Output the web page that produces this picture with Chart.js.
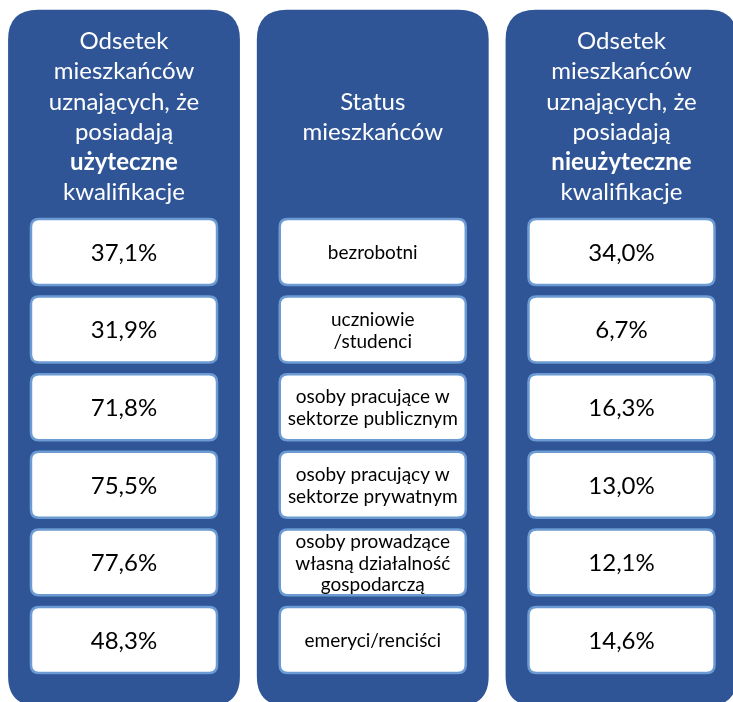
<!DOCTYPE html>
<html>
<head>
<meta charset="utf-8">
<script src="https://cdn.jsdelivr.net/npm/chart.js"></script>
<style>
  html, body { margin:0; padding:0; background:#fff; }
  #wrap { width:733px; height:702px; }
</style>
</head>
<body>
<div id="wrap"><canvas id="chart" width="733" height="702"></canvas></div>
<script>
// DANE
const columns = ["useful", "status", "useless"];
const headerUseful = [["Odsetek"], ["mieszkańców"], ["uznających, że"], ["posiadają"], ["użyteczne", true], ["kwalifikacje"]];
const headerStatus = [["Status"], ["mieszkańców"]];
const headerUseless = [["Odsetek"], ["mieszkańców"], ["uznających, że"], ["posiadają"], ["nieużyteczne", true], ["kwalifikacje"]];
const statusLabels = [
  ["bezrobotni"],
  ["uczniowie", "/studenci"],
  ["osoby pracujące w", "sektorze publicznym"],
  ["osoby pracujący w", "sektorze prywatnym"],
  ["osoby prowadzące", "własną działalność", "gospodarczą"],
  ["emeryci/renciści"]
];
const usefulValues = [37.1, 31.9, 71.8, 75.5, 77.6, 48.3];
const uselessValues = [34.0, 6.7, 16.3, 13.0, 12.1, 14.6];

const FONT = "Lato, 'Open Sans', sans-serif";
const PANEL = "#2F5597";
const BORDER = "#6B9BD2";

function pct(v){ return v.toFixed(1).replace(".", ",") + "%"; }
function points(col){ return statusLabels.map((s,i)=>({x:col, y:i})); }

function roundRect(ctx, x, y, w, h, r){
  ctx.beginPath();
  ctx.moveTo(x+r, y);
  ctx.lineTo(x+w-r, y);
  ctx.quadraticCurveTo(x+w, y, x+w, y+r);
  ctx.lineTo(x+w, y+h-r);
  ctx.quadraticCurveTo(x+w, y+h, x+w-r, y+h);
  ctx.lineTo(x+r, y+h);
  ctx.quadraticCurveTo(x, y+h, x, y+h-r);
  ctx.lineTo(x, y+r);
  ctx.quadraticCurveTo(x, y, x+r, y);
  ctx.closePath();
}

// PLUGIN: panele, naglowki i komorki
const tablePlugin = {
  id: "tablePlugin",
  beforeDatasetsDraw(chart){
    const ctx = chart.ctx;
    const xs = chart.scales.x, ys = chart.scales.y;
    const halfPanel = xs.getPixelForValue(0.466) - xs.getPixelForValue(0);
    const top = ys.getPixelForValue(-3.12);
    const bottom = ys.getPixelForValue(5.85);
    const headerY = ys.getPixelForValue(-1.74);
    const headers = [headerUseful, headerStatus, headerUseless];

    columns.forEach((c, col)=>{
      const cx = xs.getPixelForValue(col);
      ctx.save();
      roundRect(ctx, cx-halfPanel, top, halfPanel*2, bottom-top, 30);
      ctx.fillStyle = PANEL;
      ctx.fill();
      ctx.restore();

      // naglowek
      const lines = headers[col];
      const lh = 30.3;
      ctx.save();
      ctx.fillStyle = "#fff";
      ctx.textAlign = "center";
      ctx.textBaseline = "middle";
      lines.forEach((l, i)=>{
        ctx.font = (l[1] ? "bold " : "") + "24px " + FONT;
        ctx.fillText(l[0], cx, headerY + (i - (lines.length-1)/2)*lh);
      });
      ctx.restore();
    });
  },
  afterDatasetsDraw(chart){
    const ctx = chart.ctx;
    const xs = chart.scales.x, ys = chart.scales.y;
    const hw = xs.getPixelForValue(0.374) - xs.getPixelForValue(0);
    const hh = ys.getPixelForValue(0.425) - ys.getPixelForValue(0);
    chart.data.datasets.forEach((ds, di)=>{
      const meta = chart.getDatasetMeta(di);
      meta.data.forEach((pt, i)=>{
        ctx.save();
        roundRect(ctx, pt.x-hw, pt.y-hh, hw*2, hh*2, 8);
        ctx.fillStyle = "#fff";
        ctx.fill();
        ctx.lineWidth = 2.5;
        ctx.strokeStyle = BORDER;
        ctx.stroke();
        ctx.fillStyle = "#000";
        ctx.textAlign = "center";
        ctx.textBaseline = "middle";
        if(ds.kind === "status"){
          const lines = statusLabels[i];
          const lh = lines.length > 2 ? 21.5 : 22;
          ctx.font = "19px " + FONT;
          lines.forEach((l, k)=>{
            ctx.fillText(l, pt.x, pt.y + 1 + (k - (lines.length-1)/2)*lh);
          });
        } else {
          ctx.font = "24px " + FONT;
          ctx.fillText(pct(ds.values[i]), pt.x, pt.y + 1);
        }
        ctx.restore();
      });
    });
  }
};

new Chart(document.getElementById("chart"), {
  type: "scatter",
  data: {
    datasets: [
      { kind: "value", values: usefulValues, data: points(0), pointRadius: 0 },
      { kind: "status", values: [], data: points(1), pointRadius: 0 },
      { kind: "value", values: uselessValues, data: points(2), pointRadius: 0 }
    ]
  },
  options: {
    responsive: false,
    animation: false,
    layout: { padding: 0 },
    plugins: { legend: { display: false }, tooltip: { enabled: false } },
    scales: {
      x: { type: "linear", display: false, min: -0.4985, max: 2.4482 },
      y: { type: "linear", display: false, reverse: true, min: -3.247, max: 5.799 }
    }
  },
  plugins: [tablePlugin]
});
</script>
</body>
</html>
